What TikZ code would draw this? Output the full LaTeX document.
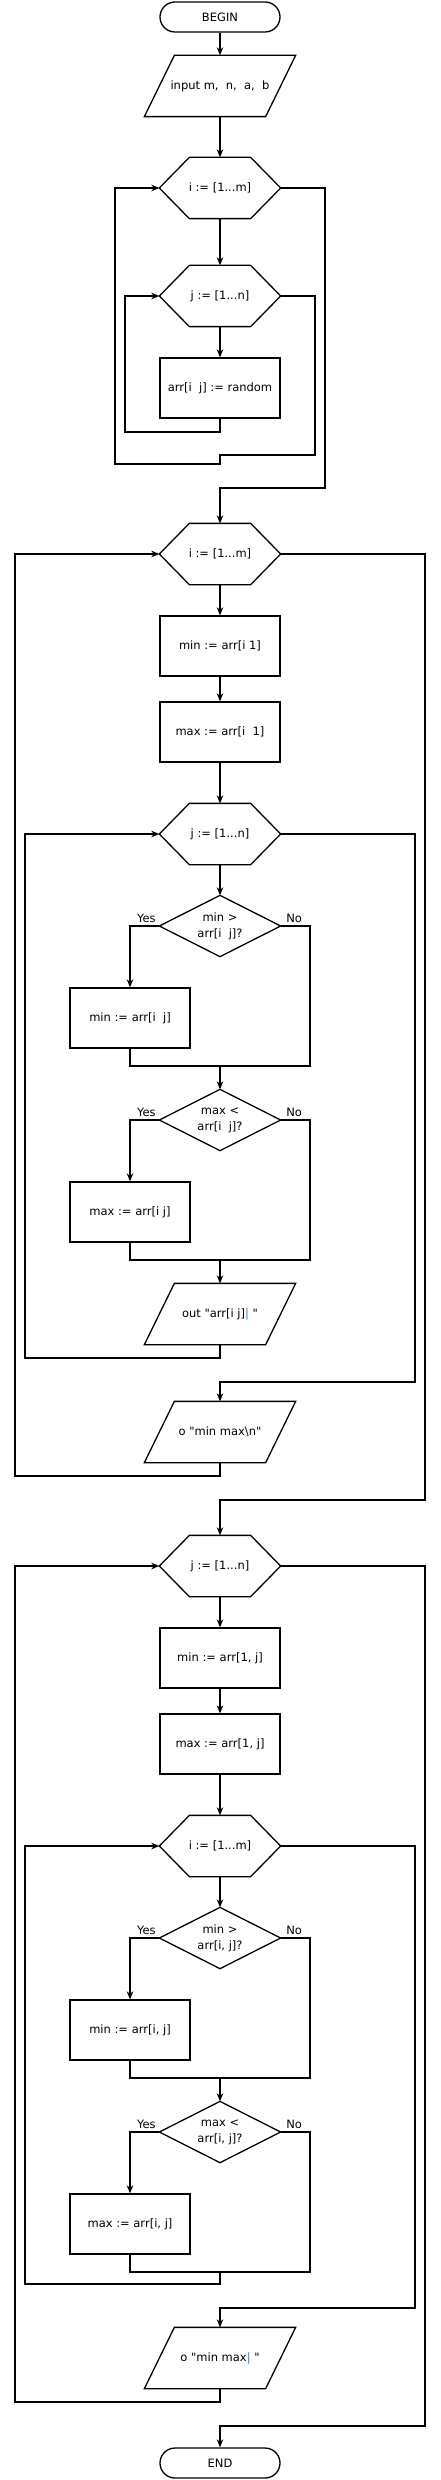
\documentclass[tikz,border=0pt]{standalone}
\usepackage{fontspec}
\setmainfont{DejaVu Sans}[Ligatures=TeXOff]
\usetikzlibrary{arrows.meta,calc}
\definecolor{barblue}{RGB}{60,125,210}
\newcommand{\bluebar}{{\color{barblue}|}}
\begin{document}
\begin{tikzpicture}[x=1pt,y=1pt,
  line width=1.3pt,
  every node/.style={font=\fontsize{11.5}{16}\selectfont, inner sep=0pt, align=center},
  term/.style={draw, rounded corners=15pt, minimum width=120pt, minimum height=30pt},
  procbox/.style={draw, minimum width=120pt, minimum height=60pt},
  paranode/.style={minimum width=150pt, minimum height=60pt},
  hexnode/.style={minimum width=120pt, minimum height=60pt},
  dianode/.style={minimum width=120pt, minimum height=60pt},
  arr/.style={-{Stealth[length=8pt,width=6.5pt,inset=2.5pt]}},
  lbl/.style={font=\fontsize{11.5}{13}\selectfont}
]
\useasboundingbox (0,0) rectangle (440,-2480);

% ---------- section 1
\node[term] (begin) at (220,-17) {BEGIN};
\node[paranode] (inp) at (220,-86) {input m,\ \ n,\ \ a,\ \ b};
\node[hexnode] (h1) at (220,-188) {i := [1...m]};
\node[hexnode] (h2) at (220,-296) {j := [1...n]};
\node[procbox] (b1) at (220,-388) {arr[i\ \ j] := random};

% ---------- section 2
\node[hexnode] (h3) at (220,-554) {i := [1...m]};
\node[procbox] (b2) at (220,-646) {min := arr[i 1]};
\node[procbox] (b3) at (220,-732) {max := arr[i\ \ 1]};
\node[hexnode] (h4) at (220,-834) {j := [1...n]};
\node[dianode] (d1) at (220,-926) {min >\\arr[i\ \ j]?};
\node[procbox] (b4) at (130,-1018) {min := arr[i\ \ j]};
\node[dianode] (d2) at (220,-1120) {max <\\arr[i\ \ j]?};
\node[procbox] (b5) at (130,-1212) {max := arr[i j]};
\node[paranode] (p2) at (220,-1314) {out "arr[i j]\bluebar\ "};
\node[paranode] (p3) at (220,-1432) {o "min max\textbackslash n"};

% ---------- section 3
\node[hexnode] (h5) at (220,-1566) {j := [1...n]};
\node[procbox] (b6) at (220,-1658) {min := arr[1, j]};
\node[procbox] (b7) at (220,-1744) {max := arr[1, j]};
\node[hexnode] (h6) at (220,-1846) {i := [1...m]};
\node[dianode] (d3) at (220,-1938) {min >\\arr[i, j]?};
\node[procbox] (b8) at (130,-2030) {min := arr[i, j]};
\node[dianode] (d4) at (220,-2132) {max <\\arr[i, j]?};
\node[procbox] (b9) at (130,-2224) {max := arr[i, j]};
\node[paranode] (p4) at (220,-2358) {o "min max\bluebar\ "};
\node[term] (end) at (220,-2463) {END};

% ---------- shape outlines
\foreach \n in {inp,p2,p3,p4}{
  \draw ([xshift=30pt]\n.north west) -- (\n.north east) -- ([xshift=-30pt]\n.south east) -- (\n.south west) -- cycle;
}
\foreach \n in {h1,h2,h3,h4,h5,h6}{
  \draw (\n.west) -- ([xshift=30pt]\n.north west) -- ([xshift=-30pt]\n.north east) -- (\n.east) -- ([xshift=-30pt]\n.south east) -- ([xshift=30pt]\n.south west) -- cycle;
}
\foreach \n in {d1,d2,d3,d4}{
  \draw (\n.west) -- (\n.north) -- (\n.east) -- (\n.south) -- cycle;
}

% ---------- labels
\foreach \n in {d1,d2,d3,d4}{
  \node[lbl, anchor=base east] at ([xshift=-3pt,yshift=4pt]\n.west) {Yes};
  \node[lbl, anchor=base west] at ([xshift=5pt,yshift=4pt]\n.east) {No};
}

% ---------- junction coordinates
\coordinate (j1) at (220,-1066);
\coordinate (j2) at (220,-1260);
\coordinate (j3) at (220,-2078);
\coordinate (j4) at (220,-2272);

% ---------- connectors section 1
\draw[arr] (begin) -- (inp.north);
\draw[arr] (inp) -- (h1.north);
\draw[arr] (h1) -- (h2.north);
\draw[arr] (h2) -- (b1.north);
\draw[arr] (b1.south) -- (220,-432) -- (125,-432) |- (h2.west);
\draw[arr] (h2.east) -- (315,-296) -- (315,-455) -- (220,-455) -- (220,-464) -- (115,-464) |- (h1.west);
\draw[arr] (h1.east) -- (325,-188) -- (325,-488) -- (220,-488) -- (h3.north);

% ---------- connectors section 2
\draw[arr] (h3) -- (b2.north);
\draw[arr] (b2) -- (b3.north);
\draw[arr] (b3) -- (h4.north);
\draw[arr] (h4) -- (d1.north);
\draw[arr] (d1.west) -| (b4.north);
\draw (b4.south) |- (j1) -- (310,-1066) |- (d1.east);
\draw[arr] (j1) -- (d2.north);
\draw[arr] (d2.west) -| (b5.north);
\draw (b5.south) |- (j2) -- (310,-1260) |- (d2.east);
\draw[arr] (j2) -- (p2.north);
\draw[arr] (p2.south) -- (220,-1358) -- (25,-1358) |- (h4.west);
\draw[arr] (h4.east) -- (415,-834) -- (415,-1382) -- (220,-1382) -- (p3.north);
\draw[arr] (p3.south) -- (220,-1476) -- (15,-1476) |- (h3.west);
\draw[arr] (h3.east) -- (425,-554) -- (425,-1500) -- (220,-1500) -- (h5.north);

% ---------- connectors section 3
\draw[arr] (h5) -- (b6.north);
\draw[arr] (b6) -- (b7.north);
\draw[arr] (b7) -- (h6.north);
\draw[arr] (h6) -- (d3.north);
\draw[arr] (d3.west) -| (b8.north);
\draw (b8.south) |- (j3) -- (310,-2078) |- (d3.east);
\draw[arr] (j3) -- (d4.north);
\draw[arr] (d4.west) -| (b9.north);
\draw (b9.south) |- (j4) -- (310,-2272) |- (d4.east);
\draw[arr] (j4) -- (220,-2284) -- (25,-2284) |- (h6.west);
\draw[arr] (h6.east) -- (415,-1846) -- (415,-2308) -- (220,-2308) -- (p4.north);
\draw[arr] (p4.south) -- (220,-2402) -- (15,-2402) |- (h5.west);
\draw[arr] (h5.east) -- (425,-1566) -- (425,-2426) -- (220,-2426) -- (end.north);
\end{tikzpicture}
\end{document}
